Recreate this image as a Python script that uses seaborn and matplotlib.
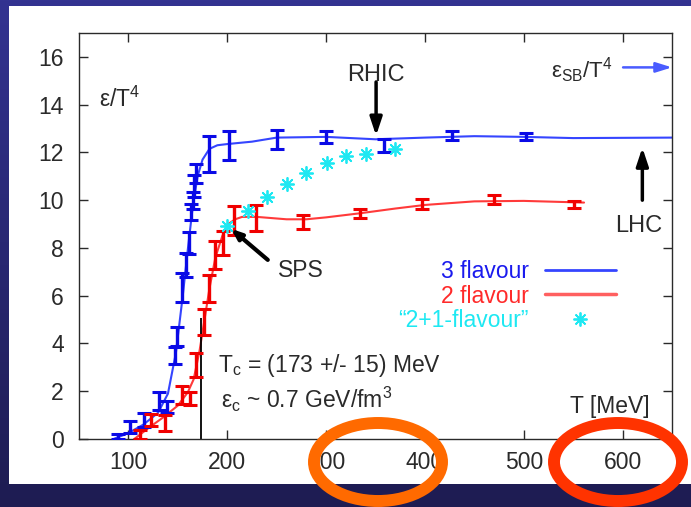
import numpy as np
import matplotlib
matplotlib.use("Agg")
import matplotlib.pyplot as plt
from matplotlib.patches import Ellipse, Rectangle
from matplotlib.transforms import Affine2D
from matplotlib.lines import Line2D
import seaborn as sns

# ---- lattice results: energy density eps/T^4 versus temperature T [MeV] ----
# 3 flavour data points with errors
t3 = [89, 102, 116, 131, 139, 147, 149, 154, 158, 161, 163, 165, 166.5, 168, 182, 202, 250, 300, 359, 427, 502]
e3 = [0.1, 0.5, 0.8, 1.6, 1.35, 3.5, 4.3, 6.35, 7.3, 8.2, 9.5, 10.0, 10.6, 11.1, 11.95, 12.3, 12.55, 12.65, 12.3, 12.7, 12.65]
err3 = [0.12, 0.25, 0.3, 0.38, 0.25, 0.37, 0.4, 0.6, 0.5, 0.45, 0.35, 0.35, 0.45, 0.4, 0.75, 0.6, 0.4, 0.25, 0.28, 0.18, 0.15]
# 3 flavour interpolating curve
t3_fit = [85, 100, 115, 130, 140, 148, 155, 160, 165, 170, 175, 182, 190, 200, 225, 250, 300, 350, 400, 450, 500, 550, 650]
e3_fit = [0.0, 0.25, 0.6, 1.1, 1.9, 3.6, 6.0, 7.9, 9.7, 11.0, 11.7, 12.15, 12.3, 12.35, 12.45, 12.62, 12.65, 12.55, 12.62, 12.68, 12.65, 12.6, 12.62]

# 2 flavour data points with errors
t2 = [112, 123, 137.5, 154, 162, 168.5, 176, 182, 188, 195.5, 207, 229, 277, 334, 397, 470, 551]
e2 = [0.18, 0.8, 0.67, 1.85, 1.7, 3.1, 4.9, 6.3, 7.7, 8.2, 9.15, 9.25, 9.1, 9.45, 9.85, 10.03, 9.83]
err2 = [0.2, 0.25, 0.35, 0.37, 0.28, 0.5, 0.55, 0.55, 0.6, 0.5, 0.6, 0.55, 0.3, 0.2, 0.22, 0.17, 0.15]
# 2 flavour interpolating curve
t2_fit = [106, 120, 135, 150, 160, 166, 172, 177, 182, 188, 195, 201, 208, 215, 230, 260, 280, 300, 334, 370, 400, 450, 500, 561]
e2_fit = [0.0, 0.45, 0.9, 1.4, 1.95, 2.5, 3.7, 5.0, 6.3, 7.6, 8.5, 9.0, 9.2, 9.3, 9.3, 9.2, 9.2, 9.28, 9.45, 9.65, 9.8, 9.95, 9.97, 9.9]

# "2+1 flavour" estimate
t21 = [200, 220.5, 240.7, 260, 280, 300.5, 320, 340.5, 370]
e21 = [8.92, 9.56, 10.15, 10.67, 11.15, 11.55, 11.87, 11.94, 12.13]

t_c = 173
e_tc_line = 5.05
e_sb = 15.56

x_ticks = [100, 200, 300, 400, 500, 600]
y_ticks = [0, 2, 4, 6, 8, 10, 12, 14, 16]

BLUE_PT, BLUE_LN = "#0a0ae6", "#3545ff"
RED_PT, RED_LN = "#f00000", "#ff3a3a"
CYAN = "#1ee8f2"
INK = "#2a2a2a"

sns.set_theme(style="ticks")
plt.rcParams["font.family"] = ["Liberation Sans", "DejaVu Sans"]
plt.rcParams["mathtext.default"] = "regular"

W, H = 691, 507
fig = plt.figure(figsize=(W / 100, H / 100), dpi=100)
pix = Affine2D().scale(1 / W, -1 / H).translate(0, 1) + fig.transFigure

# slide backdrop: blue gradient with a white panel
bg = fig.add_axes([0, 0, 1, 1], zorder=0)
bg.set_axis_off()
top = np.array([51, 51, 145]) / 255
bot = np.array([30, 28, 82]) / 255
g = np.linspace(0, 1, 256)[:, None, None]
bg.imshow(top + (bot - top) * g, aspect="auto", extent=[0, 1, 0, 1])
bg.set_xlim(0, 1)
bg.set_ylim(0, 1)
bg.add_patch(Rectangle((9, 6), W - 9, 478, transform=pix, facecolor="white", edgecolor="none"))

ax = fig.add_axes([79 / W, 1 - 439 / H, 593 / W, 406 / H], zorder=2)
ax.set_facecolor("white")

# interpolating curves
sns.lineplot(x=t3_fit, y=e3_fit, sort=False, color=BLUE_LN, lw=1.5, ax=ax)
sns.lineplot(x=t2_fit, y=e2_fit, sort=False, color=RED_LN, lw=1.5, ax=ax)

# data with error bars
ax.errorbar(t3, e3, yerr=err3, fmt="none", ecolor=BLUE_PT, elinewidth=2.4, capsize=5, capthick=2.2, zorder=3)
ax.errorbar(t2, e2, yerr=err2, fmt="none", ecolor=RED_PT, elinewidth=2.4, capsize=5, capthick=2.2, zorder=3)
sns.scatterplot(x=t21, y=e21, marker=(8, 2, 0), s=90, color=CYAN, edgecolor=CYAN, linewidth=1.3, ax=ax, zorder=4)

# critical temperature marker
ax.vlines(t_c, 0, e_tc_line, color="black", lw=1.3, zorder=2)

ax.set_xlim(50, 650)
ax.set_ylim(0, 17)
ax.set_xticks(x_ticks)
ax.set_yticks(y_ticks)
ax.set_xlabel("")
ax.set_ylabel("")
ax.tick_params(direction="in", length=6.5, width=1.0, top=True, right=True,
               labelsize=16.5, labelcolor=INK, color=INK)
ax.tick_params(axis="x", pad=8.5)
ax.tick_params(axis="y", pad=11)
for s in ax.spines.values():
    s.set_linewidth(1.0)
    s.set_color(INK)
    s.set_visible(True)

# annotations
fs = 16.5
ax.text(70.5, 13.92, "ε/T$^4$", fontsize=fs, color=INK, ha="left", va="baseline")
ax.text(350.6, 15.0, "RHIC", fontsize=17, color=INK, ha="center", va="baseline")
ax.annotate("", xy=(350.6, 12.7), xytext=(350.6, 14.95),
            arrowprops=dict(arrowstyle="-|>,head_length=0.9,head_width=0.3", lw=2.5, color="black",
                            shrinkA=0, shrinkB=0))
ax.text(616, 8.67, "LHC", fontsize=17, color=INK, ha="center", va="baseline")
ax.annotate("", xy=(620, 12.2), xytext=(620, 10.0),
            arrowprops=dict(arrowstyle="-|>,head_length=0.9,head_width=0.3", lw=2.5, color="black",
                            shrinkA=0, shrinkB=0))
ax.text(590, 15.14, "ε$_{SB}$/T$^4$", fontsize=16, color=INK, ha="right", va="baseline")
ax.annotate("", xy=(650, e_sb), xytext=(600.5, e_sb),
            arrowprops=dict(arrowstyle="-|>,head_length=0.8,head_width=0.25", lw=1.8, color="#4a5cff",
                            shrinkA=0, shrinkB=0))
ax.text(251, 6.79, "SPS", fontsize=fs, color=INK, ha="left", va="baseline")
ax.annotate("", xy=(204, 8.8), xytext=(241, 7.5),
            arrowprops=dict(arrowstyle="-|>,head_length=0.5,head_width=0.2", lw=3, color="black",
                            shrinkA=0, shrinkB=0))
ax.text(190.3, 2.82, "T$_c$ = (173 +/- 15) MeV", fontsize=fs, color=INK, ha="left", va="baseline")
ax.text(193.8, 1.31, "ε$_c$ ~ 0.7 GeV/fm$^3$", fontsize=fs, color=INK, ha="left", va="baseline")
ax.text(627.5, 1.1, "T [MeV]", fontsize=fs, color=INK, ha="right", va="baseline")

handles = [Line2D([], [], color=BLUE_LN, lw=2),
           Line2D([], [], color="#ff6060", lw=2.5),
           Line2D([], [], color=CYAN, ls="none", marker=(8, 2, 0), ms=10, mew=1.3)]
leg = ax.legend(handles, ["3 flavour", "2 flavour", "\u201c2+1-flavour\u201d"],
                loc="upper right", bbox_to_anchor=(0.9056, 0.44), borderpad=0, borderaxespad=0,
                handlelength=3.1, handletextpad=0.7, labelspacing=0.05, markerfirst=False,
                frameon=False, fontsize=fs, labelcolor=["#1a1aee", "#ff2a2a", CYAN])

# highlight rings over the axis labels
fig.add_artist(Ellipse((378, 462), 128, 78, transform=pix, fill=False, lw=8.6,
                       edgecolor="#ff6a00", zorder=10))
fig.add_artist(Ellipse((618, 462), 128, 78, transform=pix, fill=False, lw=8.6,
                       edgecolor="#ff3300", zorder=10))

fig.savefig("out.png", dpi=100)
